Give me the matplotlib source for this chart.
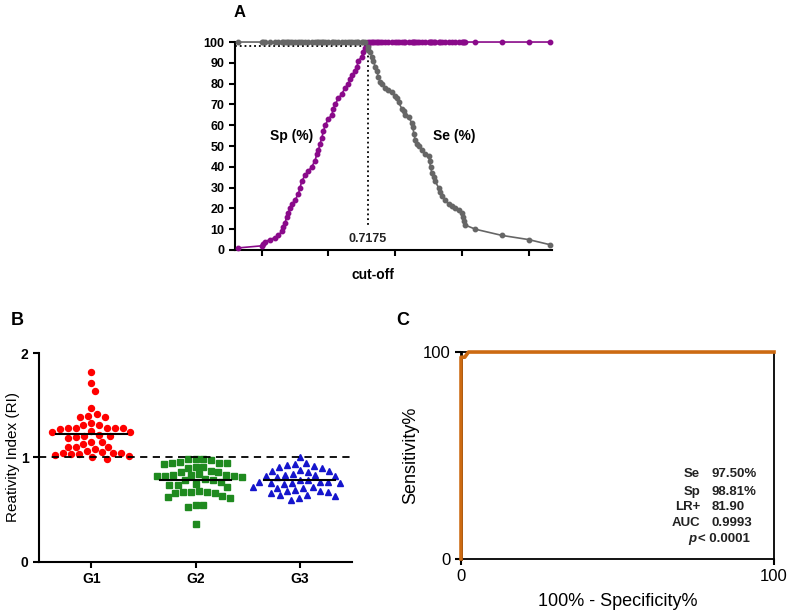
import numpy as np
import matplotlib
matplotlib.use('Agg')
import matplotlib.pyplot as plt

plt.rcParams['font.family'] = ['Liberation Sans', 'DejaVu Sans']

# A: cut-off curves (Sp rising up to the cut-off, Se falling after it)
sp_x = [0.33, 0.40, 0.405, 0.41, 0.425, 0.44, 0.45, 0.46, 0.465, 0.47, 0.475, 0.48, 0.485, 0.49, 0.50,
        0.51, 0.515, 0.52, 0.53, 0.54, 0.55, 0.56, 0.565, 0.57, 0.575, 0.58, 0.585, 0.59, 0.60, 0.61,
        0.615, 0.62, 0.63, 0.64, 0.65, 0.66, 0.665, 0.67, 0.68, 0.685, 0.69, 0.70, 0.705, 0.71, 0.7175]
sp_y = [1, 2, 3, 4, 5, 6, 7, 9, 11, 13, 16, 18, 20, 22, 24, 27, 30, 33, 36, 38, 40, 43, 46, 48, 51,
        54, 57, 60, 63, 65, 68, 70, 73, 75, 78, 80, 82, 84, 86, 88, 91, 93, 95, 97, 98.81]
se_x = [0.7175, 0.72, 0.725, 0.73, 0.735, 0.74, 0.745, 0.75, 0.755, 0.76, 0.77, 0.78, 0.79, 0.80, 0.805,
        0.81, 0.82, 0.825, 0.83, 0.84, 0.85, 0.853, 0.856, 0.86, 0.865, 0.87, 0.88, 0.89, 0.90, 0.903,
        0.906, 0.91, 0.915, 0.92, 0.93, 0.935, 0.94, 0.95, 0.96, 0.97, 0.98, 0.99, 1.00, 1.003, 1.006,
        1.01, 1.04, 1.12, 1.20, 1.265]
se_y = [97.5, 96, 95, 93, 91, 88, 86, 83, 81, 80, 78, 77, 76, 74, 73, 71, 68, 67, 65, 64, 61, 59, 56,
        53, 51, 50, 48, 46, 45, 43, 40, 37, 35, 33, 30, 28, 26, 24, 22, 21, 20, 19, 18, 16, 14, 12, 10,
        7, 5, 2.5]
cutoff = 0.7175
cut_level = 98

# B: reactivity index per group
groups = ['G1', 'G2', 'G3']
g1 = [1.82, 1.71, 1.64, 1.47, 1.42, 1.40, 1.39, 1.39, 1.33, 1.31, 1.31, 1.28, 1.28, 1.28, 1.28, 1.28,
      1.27, 1.25, 1.24, 1.24, 1.22, 1.21, 1.21, 1.20, 1.19, 1.15, 1.15, 1.13, 1.10, 1.10, 1.10, 1.08,
      1.06, 1.05, 1.04, 1.04, 1.04, 1.03, 1.03, 1.02, 1.01, 1.00, 0.99]
g2 = [0.99, 0.99, 0.99, 0.98, 0.96, 0.95, 0.95, 0.95, 0.94, 0.91, 0.91, 0.90, 0.87, 0.86, 0.86, 0.84,
      0.83, 0.83, 0.83, 0.82, 0.82, 0.82, 0.81, 0.79, 0.78, 0.78, 0.77, 0.75, 0.74, 0.74, 0.72, 0.68,
      0.67, 0.67, 0.67, 0.66, 0.66, 0.63, 0.62, 0.61, 0.55, 0.55, 0.53, 0.36]
g3 = [1.00, 0.95, 0.94, 0.93, 0.92, 0.91, 0.90, 0.88, 0.87, 0.87, 0.86, 0.84, 0.83, 0.83, 0.82, 0.82,
      0.81, 0.78, 0.78, 0.77, 0.77, 0.77, 0.76, 0.76, 0.76, 0.75, 0.72, 0.72, 0.71, 0.71, 0.69, 0.68,
      0.68, 0.67, 0.66, 0.64, 0.64, 0.63, 0.61, 0.59]

# C: ROC curve
fpr = [0, 0, 1.19, 2.38, 100]
tpr = [0, 97.5, 97.5, 100, 100]
stat_names = ['Se', 'Sp', 'LR+', 'AUC']
stat_vals = ['97.50%', '98.81%', '81.90', '0.9993']


def swarm(vals, center, d=0.076, step=0.004):
    # simple beeswarm: put each point as close to the centre as it fits
    xs, ys = [], []
    for v in sorted(vals, reverse=True):
        k = 0
        while True:
            for off in ([0] if k == 0 else [k * step, -k * step]):
                ok = all((off - px) ** 2 + (v - py) ** 2 >= d * d for px, py in zip(xs, ys))
                if ok:
                    break
            else:
                k += 1
                continue
            break
        xs.append(off)
        ys.append(v)
    return np.array(xs) + center, np.array(ys)


fig = plt.figure(figsize=(7.87, 6.10), dpi=100)

# ---- panel A
purple = '#8a0a8a'
grey = '#666666'
axA = fig.add_axes([0.2986, 0.5902, 0.4028, 0.3409])
axA.plot(sp_x + se_x[1:], sp_y + [100] * (len(se_x) - 1), color=purple, lw=1.2,
         marker='o', ms=3.2, clip_on=False, zorder=3)
axA.plot(sp_x[:-1] + se_x, [100] * (len(sp_x) - 1) + se_y, color=grey, lw=1.2,
         marker='o', ms=3.2, clip_on=False, zorder=4)
axA.plot([0.32, cutoff], [cut_level, cut_level], color='black', ls=':', lw=1.3, zorder=2)
axA.plot([cutoff, cutoff], [cut_level, 12], color='black', ls=':', lw=1.3, zorder=2)
axA.text(cutoff, 5.5, '0.7175', ha='center', va='center', fontsize=9, fontweight='bold', color='#222222')
axA.text(0.49, 55, 'Sp (%)', ha='center', va='center', fontsize=10, fontweight='bold')
axA.text(0.976, 55, 'Se (%)', ha='center', va='center', fontsize=10, fontweight='bold')
axA.set_xlim(0.32, 1.27)
axA.set_ylim(0, 100)
axA.set_xticks([0.4, 0.6, 0.8, 1.0, 1.2])
axA.set_xticklabels([])
axA.set_yticks(range(0, 101, 10))
axA.set_yticklabels([str(v) for v in range(0, 101, 10)], fontsize=9, fontweight='bold')
axA.set_xlabel('cut-off', fontsize=10, fontweight='bold')
axA.xaxis.set_label_coords(0.434, -0.085)
for s in ['top', 'right']:
    axA.spines[s].set_visible(False)
for s in ['left', 'bottom']:
    axA.spines[s].set_linewidth(1.5)
axA.tick_params(width=1.5, length=4)
fig.text(0.305, 0.980, 'A', fontsize=12, fontweight='bold', ha='center', va='center')

# ---- panel B
axB = fig.add_axes([0.0496, 0.0787, 0.3977, 0.3426])
styles = [(g1, 'o', '#ff0000'), (g2, 's', '#1f8a1f'), (g3, '^', '#1515cc')]
for i, (vals, mk, col) in enumerate(styles):
    xs, ys = swarm(vals, i + 1)
    axB.plot(xs, ys, ls='none', marker=mk, ms=4.3, color=col, mec=col)
    m = np.mean(vals)
    axB.plot([i + 1 - 0.34, i + 1 + 0.34], [m, m], color='black', lw=1.5, zorder=5)
axB.axhline(1, color='black', ls='--', lw=1.3, dashes=(4, 3))
axB.set_xlim(0.5, 3.5)
axB.set_ylim(0, 2)
axB.set_yticks([0, 1, 2])
axB.set_yticklabels(['0', '1', '2'], fontsize=10, fontweight='bold')
axB.set_xticks([1, 2, 3])
axB.set_xticklabels(groups, fontsize=10, fontweight='bold')
axB.set_ylabel('Reativity Index (RI)', fontsize=11)
axB.yaxis.set_label_coords(-0.06, 0.5)
for s in ['top', 'right']:
    axB.spines[s].set_visible(False)
for s in ['left', 'bottom']:
    axB.spines[s].set_linewidth(1.5)
axB.tick_params(width=1.5, length=4)
fig.text(0.022, 0.475, 'B', fontsize=13, fontweight='bold', ha='center', va='center')

# ---- panel C
axC = fig.add_axes([0.5858, 0.0836, 0.3977, 0.3393])
axC.plot(fpr, tpr, color='#cc6a12', lw=2.6, clip_on=False, zorder=5)
axC.set_xlim(0, 100)
axC.set_ylim(0, 100)
axC.set_xticks([0, 100])
axC.set_yticks([0, 100])
axC.set_xticklabels(['0', '100'], fontsize=12)
axC.set_yticklabels(['0', '100'], fontsize=12)
axC.set_xlabel('100% - Specificity%', fontsize=13)
axC.set_ylabel('Sensitivity%', fontsize=13)
axC.xaxis.set_label_coords(0.5, -0.165)
axC.yaxis.set_label_coords(-0.134, 0.5)
for s in axC.spines.values():
    s.set_linewidth(1.3)
axC.spines['left'].set_linewidth(2)
axC.tick_params(width=1.5, length=4)
rows_y = [0.411, 0.324, 0.251, 0.174]
for name, val, yy in zip(stat_names, stat_vals, rows_y):
    axC.text(0.764, yy, name, transform=axC.transAxes, ha='right', va='center',
             fontsize=9.5, fontweight='bold', color='#222222')
    axC.text(0.80, yy, val, transform=axC.transAxes, ha='left', va='center',
             fontsize=9.5, fontweight='bold', color='#222222')
axC.text(0.752, 0.097, 'p', transform=axC.transAxes, ha='right', va='center',
         fontsize=9.5, fontweight='bold', style='italic', color='#222222')
axC.text(0.757, 0.097, '< 0.0001', transform=axC.transAxes, ha='left', va='center',
         fontsize=9.5, fontweight='bold', color='#222222')
fig.text(0.512, 0.475, 'C', fontsize=13, fontweight='bold', ha='center', va='center')

fig.savefig('out.png', dpi=100)
